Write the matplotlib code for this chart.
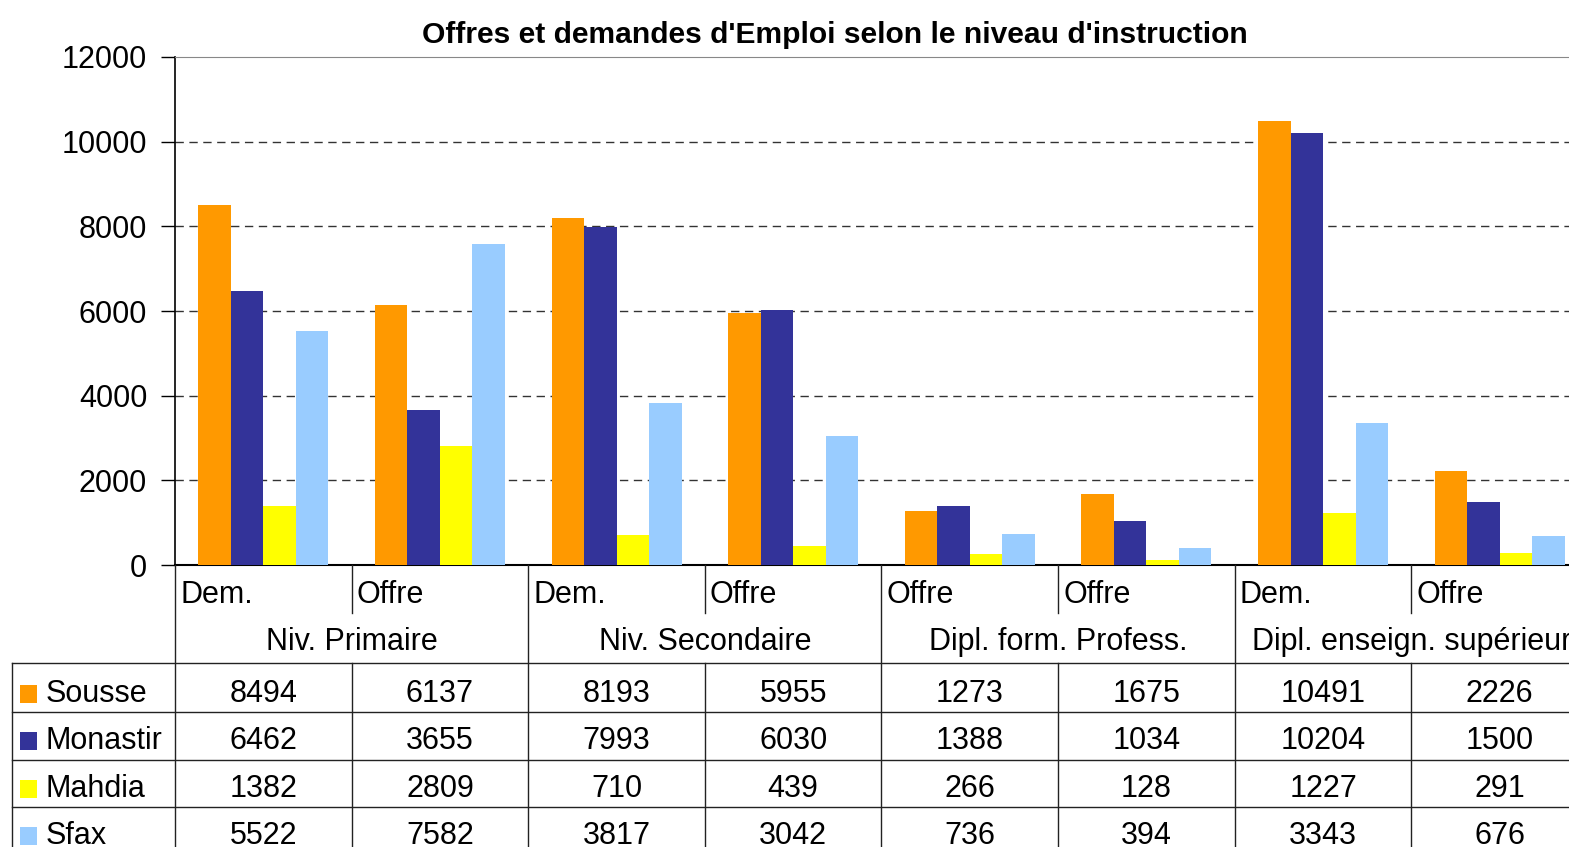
import matplotlib
matplotlib.use('Agg')
import matplotlib.pyplot as plt
import matplotlib.transforms as mtransforms
from matplotlib.lines import Line2D
from matplotlib.patches import Rectangle
import numpy as np

W, H = 1569, 847

title = "Offres et demandes d'Emploi selon le niveau d'instruction"
groups = ['Niv. Primaire', 'Niv. Secondaire', 'Dipl. form. Profess.', 'Dipl. enseign. supérieur']
sub_labels = ['Dem.', 'Offre', 'Dem.', 'Offre', 'Offre', 'Offre', 'Dem.', 'Offre']
regions = ['Sousse', 'Monastir', 'Mahdia', 'Sfax']
sousse = [8494, 6137, 8193, 5955, 1273, 1675, 10491, 2226]
monastir = [6462, 3655, 7993, 6030, 1388, 1034, 10204, 1500]
mahdia = [1382, 2809, 710, 439, 266, 128, 1227, 291]
sfax = [5522, 7582, 3817, 3042, 736, 394, 3343, 676]
series = [sousse, monastir, mahdia, sfax]
colors = ['#FF9900', '#333399', '#FFFF00', '#99CCFF']

plt.rcParams['font.family'] = ['Liberation Sans', 'DejaVu Sans']
FS = 22


def fx(px):
    return px / W


def fy(py):
    return 1 - py / H


fig = plt.figure(figsize=(W / 100, H / 100), dpi=100)
# plot area runs past the right edge, like the cropped original
ax = fig.add_axes([fx(175), fy(565), fx(1588 - 175), fy(57) - fy(565)])

x = np.arange(len(sub_labels))
width = 0.184
for i, (vals, c) in enumerate(zip(series, colors)):
    ax.bar(x + (i - 1.5) * width, vals, width, color=c, zorder=3)

ax.set_xlim(-0.5, 7.5)
ax.set_ylim(0, 12000)
ax.set_yticks(range(0, 12001, 2000))
ax.set_xticks([])
ax.tick_params(axis='y', labelsize=FS, length=10, width=1, pad=10)
for yv in range(2000, 12000, 2000):
    ax.axhline(yv, color='#333333', linestyle=(0, (6, 4)), linewidth=1, zorder=1)
ax.spines['top'].set_color('#888888')
ax.spines['right'].set_color('#888888')
ax.spines['left'].set_linewidth(1.2)
ax.spines['bottom'].set_linewidth(1.5)

fig.text(fx(835), fy(35), title, ha='center', va='center', fontsize=21.6, fontweight='bold')

# data table below the chart
trans = mtransforms.blended_transform_factory(ax.transData, fig.transFigure)
off = 5 / 176.6
for i, lab in enumerate(sub_labels):
    fig.text(i - 0.5 + off, fy(603), lab, transform=trans, ha='left', va='baseline', fontsize=FS)
for g, lab in enumerate(groups):
    fig.text(2 * g + 0.5, fy(650), lab, transform=trans, ha='center', va='baseline', fontsize=FS)

baselines = [702, 749, 797, 844]
for r, (name, vals, c) in enumerate(zip(regions, series, colors)):
    b = baselines[r]
    fig.add_artist(Rectangle((fx(20), fy(b + 1)), fx(17), 18 / H, transform=fig.transFigure,
                             facecolor=c, edgecolor='none'))
    fig.text(fx(46), fy(b), name, ha='left', va='baseline', fontsize=FS)
    for i, v in enumerate(vals):
        fig.text(i, fy(b), str(v), transform=trans, ha='center', va='baseline', fontsize=FS)

lc = '#222222'
fig.add_artist(Line2D([fx(12), fx(12)], [fy(663), fy(H)], transform=fig.transFigure, color=lc, lw=1))
fig.add_artist(Line2D([-0.5, -0.5], [fy(565), fy(H)], transform=trans, color=lc, lw=1))
for xb in [1.5, 3.5, 5.5]:
    fig.add_artist(Line2D([xb, xb], [fy(565), fy(H)], transform=trans, color=lc, lw=1))
for xb in [0.5, 2.5, 4.5, 6.5]:
    fig.add_artist(Line2D([xb, xb], [fy(565), fy(613)], transform=trans, color=lc, lw=1))
    fig.add_artist(Line2D([xb, xb], [fy(663), fy(H)], transform=trans, color=lc, lw=1))
for yb in [663, 712, 760, 807]:
    fig.add_artist(Line2D([fx(12), 1], [fy(yb), fy(yb)], transform=fig.transFigure, color=lc, lw=1))

fig.savefig('out.png', dpi=100)
